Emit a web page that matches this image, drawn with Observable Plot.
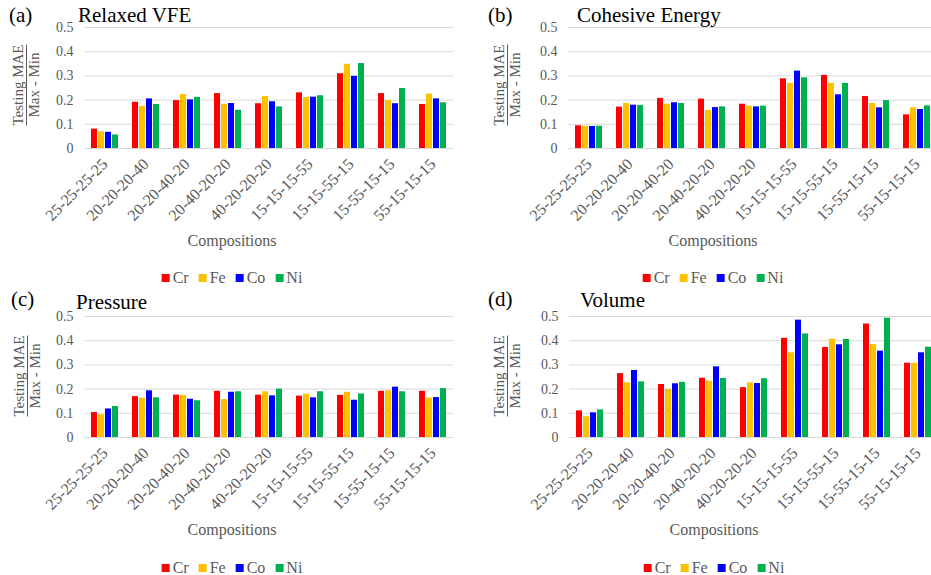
<!DOCTYPE html>
<html><head><meta charset="utf-8">
<script src="https://cdn.jsdelivr.net/npm/d3@7"></script>
<script src="https://cdn.jsdelivr.net/npm/@observablehq/plot@0.6"></script>
<style>
body{margin:0;overflow:hidden;background:#fff;}
#root, #root *{font-family:"Liberation Serif","Tinos","DejaVu Serif","Times New Roman",serif;}
#root{position:relative;width:931px;height:575px;overflow:hidden;}
.tag,.title{position:absolute;white-space:nowrap;color:#000;font-size:21px;line-height:1;transform:translateY(-50%);}
.ylab{position:absolute;white-space:nowrap;transform:translate(-50%,-50%) rotate(-90deg);text-align:center;font-size:15px;line-height:14px;color:#595959;}
.ylab .num{display:inline-block;border-bottom:1px solid #595959;padding-bottom:1px;}
.xlab{position:absolute;white-space:nowrap;transform:translate(-50%,-50%);font-size:16px;color:#595959;}
.legend{position:absolute;display:flex;align-items:center;transform:translate(-50%,-50%);font-size:16px;color:#595959;white-space:nowrap;}
.legend .item{display:flex;align-items:center;margin:0 5px;}
.legend .sw{width:8px;height:8px;margin-right:3px;}
#root svg text{font-family:"Liberation Serif","Tinos","DejaVu Serif","Times New Roman",serif;}
#root svg [aria-label^="fx-axis"] text{font-size:16px;}
</style></head><body><div id="root"></div><script>
const compositions = ["25-25-25-25","20-20-20-40","20-20-40-20","20-40-20-20","40-20-20-20","15-15-15-55","15-15-55-15","15-55-15-15","55-15-15-15"];
const elements = ["Cr","Fe","Co","Ni"];
const elementColors = ["#FF0000","#FFC000","#0000FF","#00B050"];
const yTicks = [0,0.1,0.2,0.3,0.4,0.5];

// (a) Relaxed VFE
const vfeCr = [0.080,0.191,0.198,0.227,0.185,0.230,0.309,0.227,0.182];
const vfeFe = [0.069,0.174,0.223,0.183,0.215,0.211,0.348,0.198,0.225];
const vfeCo = [0.067,0.205,0.201,0.186,0.193,0.212,0.298,0.185,0.205];
const vfeNi = [0.056,0.182,0.211,0.158,0.172,0.218,0.351,0.248,0.189];
// (b) Cohesive Energy
const cohCr = [0.094,0.171,0.207,0.204,0.183,0.288,0.302,0.215,0.139];
const cohFe = [0.091,0.186,0.183,0.157,0.175,0.269,0.269,0.186,0.168];
const cohCo = [0.091,0.179,0.189,0.169,0.172,0.320,0.222,0.168,0.161];
const cohNi = [0.092,0.178,0.186,0.172,0.175,0.292,0.269,0.198,0.176];
// (c) Pressure
const preCr = [0.103,0.169,0.175,0.191,0.175,0.171,0.174,0.191,0.191];
const preFe = [0.094,0.163,0.174,0.157,0.189,0.179,0.187,0.193,0.163];
const preCo = [0.118,0.193,0.158,0.187,0.172,0.164,0.154,0.208,0.165];
const preNi = [0.128,0.164,0.152,0.189,0.200,0.189,0.180,0.189,0.202];
// (d) Volume
const volCr = [0.110,0.264,0.219,0.245,0.206,0.410,0.372,0.469,0.307];
const volFe = [0.086,0.226,0.199,0.233,0.226,0.350,0.406,0.384,0.307];
const volCo = [0.102,0.277,0.222,0.292,0.223,0.485,0.383,0.357,0.350];
const volNi = [0.114,0.230,0.228,0.244,0.243,0.428,0.405,0.493,0.373];

function rowsOf(cr, fe, co, ni) {
  const series = [cr, fe, co, ni];
  const rows = [];
  compositions.forEach((c, i) => elements.forEach((e, j) => rows.push({comp: c, el: e, v: series[j][i]})));
  return rows;
}

const panels = [
  {tag:"(a)", title:"Relaxed VFE", rows: rowsOf(vfeCr, vfeFe, vfeCo, vfeNi),
   left:0, plotLeft:80, y05:27, tagX:9, titleX:78, titleY:15, ylabX:26, ylabY:85, xlabY:241, legY:278, cx:232},
  {tag:"(b)", title:"Cohesive Energy", rows: rowsOf(cohCr, cohFe, cohCo, cohNi),
   left:470, plotLeft:564, y05:27, tagX:488, titleX:577, titleY:15, ylabX:507, ylabY:85, xlabY:241, legY:278, cx:713},
  {tag:"(c)", title:"Pressure", rows: rowsOf(preCr, preFe, preCo, preNi),
   left:0, plotLeft:80, y05:316, tagX:11, titleX:76, titleY:302, ylabX:27, ylabY:376, xlabY:530, legY:568, cx:232, tagY:299},
  {tag:"(d)", title:"Volume", rows: rowsOf(volCr, volFe, volCo, volNi),
   left:470, plotLeft:565, y05:316, tagX:488, titleX:580, titleY:300, ylabX:507, ylabY:376, xlabY:530, legY:568, cx:714, tagY:299}
];

const root = document.getElementById("root");
const innerW = 376, innerH = 121, mTop = 10, mBottom = 95, W = 470;
const FONT = '"Liberation Serif", "Tinos", "DejaVu Serif", "Times New Roman", serif';

panels.forEach(p => {
  const ml = p.plotLeft - p.left;
  const chart = Plot.plot({
    width: W,
    height: mTop + innerH + mBottom,
    marginTop: mTop, marginBottom: mBottom, marginLeft: ml, marginRight: W - ml - innerW,
    style: {fontFamily: FONT, fontSize: "14px", color: "#595959", background: "transparent", overflow: "visible"},
    facet: {data: p.rows, x: "comp"},
    fx: {domain: compositions, padding: 0, label: null, tickRotate: -45, tickSize: 0, tickPadding: 13},
    x: {domain: elements, axis: null, paddingInner: 0.17, paddingOuter: 0.95},
    y: {domain: [0, 0.5], ticks: yTicks, tickFormat: d => d === 0 ? "0" : d.toFixed(1), tickSize: 0, tickPadding: 11, label: null},
    color: {domain: elements, range: elementColors},
    marks: [
      Plot.ruleY(yTicks.filter(t => t > 0), {stroke: "#d9d9d9", strokeWidth: 1}),
      Plot.barY(p.rows, {x: "el", y: "v", fill: "el"}),
      Plot.ruleY([0], {stroke: "#d9d9d9", strokeWidth: 1})
    ]
  });
  chart.style.position = "absolute";
  chart.style.left = p.left + "px";
  chart.style.top = (p.y05 - mTop) + "px";
  root.appendChild(chart);

  const tag = document.createElement("div");
  tag.className = "tag"; tag.textContent = p.tag;
  tag.style.left = p.tagX + "px"; tag.style.top = (p.tagY ?? p.titleY) + "px";
  root.appendChild(tag);

  const title = document.createElement("div");
  title.className = "title"; title.textContent = p.title;
  title.style.left = p.titleX + "px"; title.style.top = p.titleY + "px";
  root.appendChild(title);

  const ylab = document.createElement("div");
  ylab.className = "ylab";
  ylab.innerHTML = '<span class="num">Testing MAE</span><br>Max - Min';
  ylab.style.left = p.ylabX + "px"; ylab.style.top = p.ylabY + "px";
  root.appendChild(ylab);

  const xlab = document.createElement("div");
  xlab.className = "xlab"; xlab.textContent = "Compositions";
  xlab.style.left = p.cx + "px"; xlab.style.top = p.xlabY + "px";
  root.appendChild(xlab);

  const leg = document.createElement("div");
  leg.className = "legend";
  leg.style.left = p.cx + "px"; leg.style.top = p.legY + "px";
  elements.forEach((e, i) => {
    const it = document.createElement("div");
    it.className = "item";
    const sw = document.createElement("div");
    sw.className = "sw"; sw.style.background = elementColors[i];
    const t = document.createElement("span"); t.textContent = e;
    it.appendChild(sw); it.appendChild(t);
    leg.appendChild(it);
  });
  root.appendChild(leg);
});
</script></body></html>
